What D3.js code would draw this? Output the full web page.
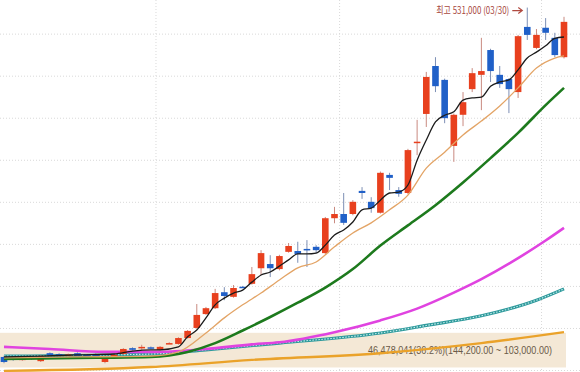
<html>
<head>
<meta charset="utf-8">
<script type="text/javascript" src="https://cdnjs.cloudflare.com/ajax/libs/d3/7.8.5/d3.min.js"></script>
<style>
    body { margin: 0; background: #fff; }
</style>
</head>
<body>
<div id="viz"></div>
<script type="text/javascript">

// daily candles (price in won)
var opens  = [115500,114500,112000,115000,110500,120000,119000,117000,120000,118000,119000,109500,115500,119000,126000,127000,127000,124000,131500,131000,
              138000,150000,166500,173500,192500,187000,199000,202500,221000,226000,220000,240500,241500,244000,246500,239000,280500,285500,285500,313000,
              300000,287000,332000,314000,310500,370500,404500,461500,445000,366500,403500,434000,451000,480500,451000,446000,430500,508000,483000,507000,
              495000,472000];
var highs  = [117000,115000,115000,116000,117500,121000,120000,119500,121000,119000,120000,115000,119000,126000,127000,130000,128000,128500,133000,139000,
              147500,178500,175000,196500,198500,201000,200000,222500,242500,236500,237000,251000,252500,254500,248500,282000,294000,310500,302000,317500,
              305500,336000,334500,317500,363000,397500,454500,472000,446500,405000,430500,459000,495000,482000,461500,447000,498500,531000,505500,518500,
              501000,520000];
var lows   = [108000,111000,111000,112000,109500,116500,116000,116000,115500,115500,115500,108000,114500,118000,123000,124000,125000,123000,131000,130000,
              137500,149000,165500,172500,183000,186000,197500,201500,213000,210500,218500,239500,227500,222500,239000,238000,274500,272500,284000,303500,
              287000,286000,314000,306000,309000,355500,389000,430500,393500,347500,390000,430500,409000,442500,435500,405500,423500,492500,481500,492500,
              472000,470500];
var closes = [109500,112000,113500,113000,116500,117500,117000,118500,116500,116500,116500,114000,118000,125000,124000,127500,126000,127500,132000,138000,
              146500,165500,173500,191500,188000,197500,198000,214000,239000,221000,235500,247500,238000,243000,242500,280500,285500,275000,300000,310500,
              292500,334500,328500,309500,361500,371500,448500,437500,399500,403500,418500,453000,455500,455500,440000,434000,497000,498500,498500,501000,
              474500,514000];

// moving averages: [candle index, price]
var ma5 = [[0,115500],[4,116500],[8,118000],[12,119000],[14,122500],[16,124000],[17,124000],[19,127500],[20,139500],[21,147500],[22,162000],
           [23,177500],[24,185500],[25,191500],[26,195000],[27,204500],[28,213000],[29,216500],[30,223500],[31,231000],[32,238000],[33,238000],
           [34,239000],[35,248500],[36,260500],[37,266500],[38,276000],[39,290500],[40,292500],[41,302000],[42,310500],[43,311500],[44,320000],
           [45,349500],[46,373500],[47,395000],[48,403000],[49,407000],[50,421000],[51,423500],[52,424500],[53,437500],[54,442500],[55,445000],
           [56,457000],[57,471000],[58,478000],[59,485500],[60,494500],[61,496000]];
var ma10 = [[0,114500],[8,115500],[16,116500],[19,121500],[22,144000],[24,162000],[26,177500],[28,191500],[30,207000],[32,221500],[34,228500],
            [36,246500],[38,263000],[40,275000],[42,290500],[44,308000],[46,340000],[48,359000],[50,379500],[52,396000],[54,414000],[56,435500],
            [58,459000],[60,471000],[61,473500]];
var ma20 = [[0,113000],[10,114500],[16,115500],[20,121500],[23,132000],[26,147000],[29,163000],[32,180000],[35,198000],[38,220000],[41,248000],
            [44,272000],[47,296000],[50,323000],[53,352000],[56,382000],[59,415000],[61,435500]];
var ma60 = [[0,127500],[5,125000],[11,121500],[17,121500],[22,125000],[27,130500],[30,133000],[36,145000],[41,159000],[45,173000],[49,192000],
            [52,208000],[56,233000],[59,254000],[61,269000]];
var ma120 = [[0,116500],[16,119000],[22,124000],[30,132000],[41,144000],[46,153000],[52,164500],[58,183000],[61,196500]];
var ma240 = [[0,99000],[16,103500],[27,112000],[41,120000],[52,132000],[61,145000]];

var priceTicks = [100000,150000,200000,250000,300000,350000,400000,450000,500000];
var monthBreaks = [16.5, 36.5, 58.5];

var bandHigh = 144200, bandLow = 103000;
var bandLabel = "46,478,041(36.2%)(144,200.00 ~ 103,000.00)";
var peakIdx = 57;
var peakLabel = "최고 531,000 (03/30)";

var W = 580, H = 372;
var svg = d3.select("#viz").append("svg")
    .attr("width", W)
    .attr("height", H);

var x = d3.scaleLinear().domain([0, opens.length - 1]).range([4, 564]);
var y = d3.scaleLinear().domain([100000, 540000]).range([370, 0]);

// grid
var gy = svg.append("g").call(d3.axisRight(y).tickValues(priceTicks).tickSize(W).tickFormat(""));
var gx = svg.append("g").call(d3.axisBottom(x).tickValues(monthBreaks).tickSize(H).tickFormat(""));
[gy, gx].forEach(function(g){
    g.select(".domain").remove();
    g.selectAll("line").attr("stroke", "#d9d9d9").attr("stroke-dasharray", "1,2");
});

// volume profile band
svg.append("rect")
    .attr("x", 0)
    .attr("y", y(bandHigh))
    .attr("width", 566)
    .attr("height", y(bandLow) - y(bandHigh))
    .style("fill", "#f4e8d6");

svg.append("text")
    .attr("x", 552)
    .attr("y", (y(bandHigh) + y(bandLow)) / 2 + 3.5)
    .attr("text-anchor", "end")
    .attr("textLength", 184)
    .attr("lengthAdjust", "spacingAndGlyphs")
    .style("font-family", "'Liberation Sans', Arial, sans-serif")
    .style("font-size", "10px")
    .style("fill", "#6a5a48")
    .text(bandLabel);

var line = d3.line()
    .x(function(d){ return x(d[0]); })
    .y(function(d){ return y(d[1]); })
    .curve(d3.curveMonotoneX);

function drawMA(data, color, width) {
    return svg.append("path").datum(data)
        .attr("d", line)
        .style("fill", "none")
        .style("stroke", color)
        .style("stroke-width", width)
        .style("stroke-linejoin", "round");
}

drawMA(ma240, "#eaa22a", 2.4);
drawMA(ma120, "#2f9a9c", 3.2);
drawMA(ma120, "#c8eeee", 1.1).attr("stroke-dasharray", "1.5,1.5");
drawMA(ma60, "#e043e0", 2.6);

// candles
var bw = 6.6;
var up = "#e8401e", down = "#2060c8";
var idx = d3.range(opens.length);
var candles = svg.append("g").selectAll("g").data(idx).enter().append("g");
candles.append("line")
    .attr("x1", function(i){ return x(i); })
    .attr("x2", function(i){ return x(i); })
    .attr("y1", function(i){ return y(highs[i]); })
    .attr("y2", function(i){ return y(lows[i]); })
    .style("stroke", function(i){ return closes[i] >= opens[i] ? "#c98a80" : "#7d8fb5"; })
    .style("stroke-width", 1);
candles.append("rect")
    .attr("x", function(i){ return x(i) - bw / 2; })
    .attr("width", bw)
    .attr("y", function(i){ return y(Math.max(opens[i], closes[i])); })
    .attr("height", function(i){ return Math.max(1.5, Math.abs(y(opens[i]) - y(closes[i]))); })
    .style("fill", function(i){ return closes[i] >= opens[i] ? up : down; });

drawMA(ma20, "#1d7a1d", 2.6);
drawMA(ma10, "#e3a466", 1.3);
drawMA(ma5, "#1c1c1c", 1.3);

// peak annotation
var tipX = x(peakIdx) - 5, tipY = y(highs[peakIdx]) + 3;
svg.append("path")
    .attr("d", "M" + (tipX - 10) + "," + tipY + "H" + tipX + "M" + (tipX - 4) + "," + (tipY - 3) + "L" + tipX + "," + tipY + "L" + (tipX - 4) + "," + (tipY + 3))
    .style("fill", "none")
    .style("stroke", "#b04a40")
    .style("stroke-width", 1.2);
svg.append("text")
    .attr("x", tipX - 13)
    .attr("y", tipY + 3.5)
    .attr("text-anchor", "end")
    .attr("textLength", 73)
    .attr("lengthAdjust", "spacingAndGlyphs")
    .style("font-family", "'Noto Sans CJK KR', sans-serif")
    .style("font-size", "10px")
    .style("fill", "#a8483e")
    .text(peakLabel);

</script>
</body>
</html>
